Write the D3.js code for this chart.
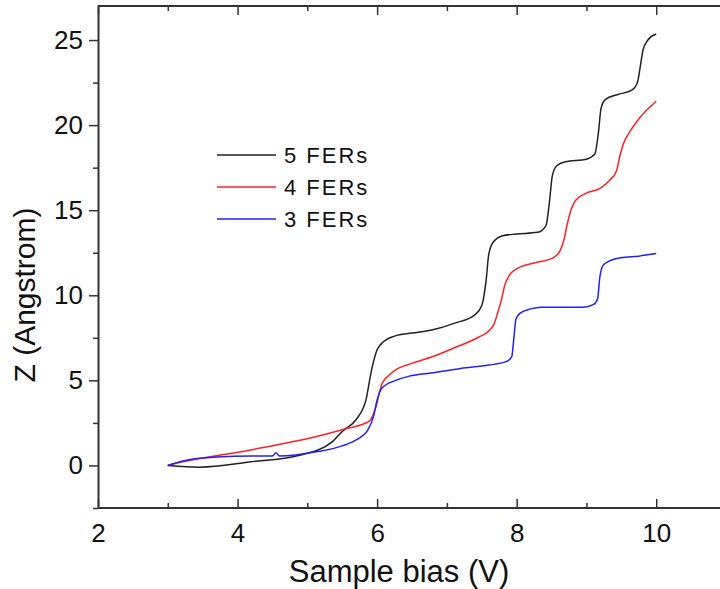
<!DOCTYPE html>
<html>
<head>
<meta charset="utf-8">
<script src="https://cdn.jsdelivr.net/npm/d3@7"></script>
<style>
  body { margin: 0; background: #fff; }
  svg text { font-family: "Liberation Sans", Arial, sans-serif; fill: #111; }
</style>
</head>
<body>
<svg id="chart" width="720" height="589"></svg>
<script>
// Z vs sample bias
var series_Names = ["5 FERs", "4 FERs", "3 FERs"];
var series_Colors = ["#222222", "#ff2020", "#2020ff"];

var bias_5 = [3.0, 3.46, 4.17, 4.89, 5.36, 5.5, 5.7, 5.84, 5.92, 6.0, 6.1, 6.25, 6.5, 6.8, 7.1, 7.4, 7.5, 7.56, 7.6, 7.66, 7.8, 8.0, 8.3, 8.42, 8.47, 8.51, 8.57, 8.7, 9.0, 9.12, 9.17, 9.21, 9.27, 9.45, 9.65, 9.73, 9.77, 9.81, 9.88, 10.0];
var z_5    = [0, -0.1, 0.2, 0.6, 1.4, 2.0, 2.7, 3.85, 5.6, 6.8, 7.3, 7.6, 7.78, 7.98, 8.35, 8.85, 9.4, 10.8, 12.4, 13.1, 13.5, 13.6, 13.7, 14.1, 15.5, 17.0, 17.6, 17.85, 18.0, 18.3, 19.5, 21.0, 21.5, 21.8, 22.05, 22.5, 23.4, 24.4, 25.0, 25.35];

var bias_4 = [3.0, 3.2, 4.17, 5.13, 5.5, 5.89, 5.98, 6.07, 6.17, 6.3, 6.5, 6.8, 7.1, 7.46, 7.6, 7.68, 7.73, 7.78, 7.83, 7.9, 8.0, 8.25, 8.52, 8.62, 8.68, 8.72, 8.77, 8.85, 9.0, 9.2, 9.33, 9.43, 9.48, 9.53, 9.62, 9.72, 9.82, 9.92, 10.0];
var z_4    = [0, 0.2, 0.9, 1.7, 2.1, 2.6, 3.4, 4.8, 5.3, 5.7, 6.0, 6.4, 6.9, 7.55, 7.9, 8.35, 9.0, 9.7, 10.6, 11.2, 11.55, 11.9, 12.2, 12.6, 13.3, 14.1, 14.9, 15.6, 16.0, 16.3, 16.75, 17.3, 18.2, 18.9, 19.6, 20.2, 20.7, 21.1, 21.4];

var bias_3 = [3.0, 3.2, 3.7, 4.2, 4.5, 4.55, 4.6, 5.13, 5.5, 5.7, 5.87, 5.95, 6.0, 6.07, 6.27, 6.46, 6.8, 7.2, 7.6, 7.85, 7.93, 7.96, 7.99, 8.05, 8.2, 8.35, 8.95, 9.1, 9.16, 9.19, 9.23, 9.3, 9.49, 9.75, 10.0];
var z_3    = [0, 0.25, 0.5, 0.55, 0.55, 0.75, 0.55, 0.8, 1.15, 1.5, 2.1, 2.9, 3.85, 4.55, 5.0, 5.25, 5.45, 5.7, 5.9, 6.1, 6.4, 7.5, 8.6, 8.95, 9.2, 9.3, 9.3, 9.45, 9.8, 11.0, 11.7, 11.95, 12.2, 12.3, 12.45];

var x_Ticks = [2, 4, 6, 8, 10];
var x_Minor = [3, 5, 7, 9];
var y_Ticks = [0, 5, 10, 15, 20, 25];
var y_Minor = [-2.5, 2.5, 7.5, 12.5, 17.5, 22.5];

var all_Bias = [bias_5, bias_4, bias_3];
var all_Z = [z_5, z_4, z_3];

var svg = d3.select("#chart");
var plot_Left = 98, plot_Right = 726, plot_Top = 6, plot_Bottom = 508;

var x = d3.scaleLinear().domain([2, 11]).range([plot_Left, plot_Right]);
var y = d3.scaleLinear().domain([-2.5, 27]).range([plot_Bottom, plot_Top]);

var axis_Color = "#333";

// bottom axis, ticks pointing in
var gx = svg.append("g").attr("transform", "translate(0," + plot_Bottom + ")");
gx.call(d3.axisBottom(x).tickValues(x_Ticks).tickSize(-9).tickFormat(d3.format("d")));
gx.selectAll("text").style("font-size", "26px").attr("y", 34).attr("dy", 0);

var gxMinor = svg.append("g").attr("transform", "translate(0," + plot_Bottom + ")");
gxMinor.call(d3.axisBottom(x).tickValues(x_Minor).tickSize(-5).tickFormat(""));
gxMinor.select(".domain").remove();

// top axis, ticks pointing in
var gt = svg.append("g").attr("transform", "translate(0," + plot_Top + ")");
gt.call(d3.axisTop(x).tickValues(x_Ticks).tickSize(-9).tickFormat(""));
var gtMinor = svg.append("g").attr("transform", "translate(0," + plot_Top + ")");
gtMinor.call(d3.axisTop(x).tickValues(x_Minor).tickSize(-5).tickFormat(""));
gtMinor.select(".domain").remove();

// left axis, ticks pointing out
var gy = svg.append("g").attr("transform", "translate(" + plot_Left + ",0)");
gy.call(d3.axisLeft(y).tickValues(y_Ticks).tickSize(9).tickPadding(6).tickSizeOuter(0).tickFormat(d3.format("d")));
gy.selectAll("text").style("font-size", "26px");
var gyMinor = svg.append("g").attr("transform", "translate(" + plot_Left + ",0)");
gyMinor.call(d3.axisLeft(y).tickValues(y_Minor).tickSize(5).tickFormat(""));
gyMinor.select(".domain").remove();

svg.selectAll(".domain").attr("stroke", axis_Color).attr("stroke-width", 2);
svg.selectAll(".tick line").attr("stroke", axis_Color).attr("stroke-width", 1.5);
gx.select(".domain").attr("d", "M" + plot_Left + ",0H" + plot_Right);
gt.select(".domain").attr("d", "M" + plot_Left + ",0H" + plot_Right);

// axis titles
svg.append("text")
  .attr("x", 399).attr("y", 582)
  .attr("text-anchor", "middle")
  .style("font-size", "31px")
  .text("Sample bias (V)");

svg.append("text")
  .attr("transform", "translate(35,295) rotate(-90)")
  .attr("text-anchor", "middle")
  .style("font-size", "30px")
  .text("Z (Angstrom)");

// curves
var line = d3.line()
  .x(function(d) { return x(d[0]); })
  .y(function(d) { return y(d[1]); })
  .curve(d3.curveMonotoneX);

for (var i = 0; i < all_Bias.length; i++)
{
    var pts = all_Bias[i].map(function(b, j) { return [b, all_Z[i][j]]; });
    svg.append("path")
      .datum(pts)
      .attr("fill", "none")
      .attr("stroke", series_Colors[i])
      .attr("stroke-width", 1.5)
      .attr("d", line);
}

// legend
var legend = svg.append("g");
for (var k = 0; k < series_Names.length; k++)
{
    var ly = 155 + k * 32;
    legend.append("line")
      .attr("x1", 217).attr("x2", 276)
      .attr("y1", ly).attr("y2", ly)
      .attr("stroke", series_Colors[k])
      .attr("stroke-width", 1.5);
    legend.append("text")
      .attr("x", 284).attr("y", ly + 8)
      .style("font-size", "22px")
      .style("letter-spacing", "2px")
      .text(series_Names[k]);
}
</script>
</body>
</html>
